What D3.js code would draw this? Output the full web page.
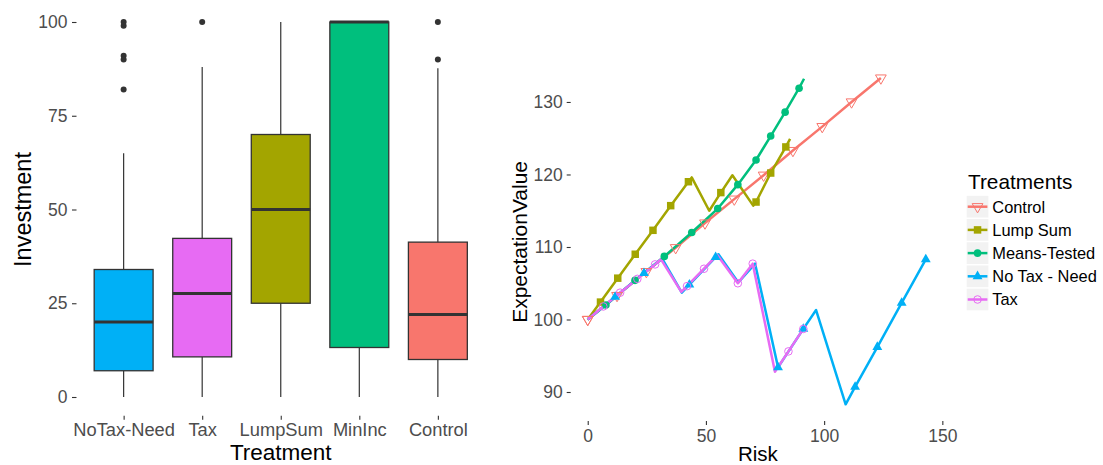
<!DOCTYPE html>
<html>
<head>
<meta charset="utf-8">
<script src="https://cdn.jsdelivr.net/npm/d3@7"></script>
<style>
  body { margin: 0; background: #fff; }
  svg { display: block; font-family: "Liberation Sans", Arial, sans-serif; }
</style>
</head>
<body>
<div id="chart"></div>
<script>
// ---- left panel: boxplot stats ----
const boxCats = ['NoTax-Need', 'Tax', 'LumpSum', 'MinInc', 'Control'];
const boxLow = [0, 0, 0, 0, 0];
const boxQ1 = [7, 10.7, 25, 13.2, 10];
const boxMedian = [20, 27.6, 50, 100, 22];
const boxQ3 = [34, 42.3, 70, 100, 41.3];
const boxHigh = [65, 88, 100, 100, 87.7];
const boxOutliers = [[100, 99, 91, 90, 82], [100], [], [], [100, 90]];
const boxYTicks = [0, 25, 50, 75, 100];

// ---- right panel: expectation value vs risk ----
const seriesNames = ['Control', 'Lump Sum', 'Means-Tested', 'No Tax - Need', 'Tax'];

const controlRisk = [0, 12.4, 24.8, 37.2, 49.6, 62, 74.4, 86.8, 99.2, 111.6, 124];
const controlEV = [100, 103.3, 106.6, 109.9, 113.3, 116.6, 119.9, 123.3, 126.6, 130, 133.3];
const controlMarks = [0, 1, 2, 3, 4, 5, 6, 7, 8, 9, 10];

const lumpRisk = [0, 5.4, 12.7, 20.1, 27.6, 35.1, 42.6, 44, 51.4, 56.3, 61.2, 70, 71.2, 77.4, 83.8, 85.6];
const lumpEV = [100, 102.4, 105.7, 109, 112.3, 115.7, 119, 119.6, 115, 117.5, 119.9, 115.7, 116.2, 120.2, 123.8, 124.9];
const lumpMarks = [1, 2, 3, 4, 5, 6, 9, 12, 13, 14];

const meansRisk = [0, 7.7, 20, 32.4, 44, 55, 63.5, 71.2, 77.4, 83.5, 89.4, 91.5];
const meansEV = [100, 102, 105.4, 108.7, 112, 115.3, 118.6, 122, 125.3, 128.6, 131.9, 133.2];
const meansMarks = [1, 2, 3, 4, 5, 6, 7, 8, 9, 10];

const noTaxRisk = [0, 11.6, 23.8, 31.5, 39.8, 43, 54.1, 55.3, 63.7, 70.8, 80.5, 91.2, 96.6, 109.1, 113.1, 122.5, 132.8, 143];
const noTaxEV = [100, 103.1, 106.4, 108.4, 103.7, 104.8, 108.6, 109, 105.1, 107.7, 93.4, 98.7, 101.3, 88.3, 90.7, 96.2, 102.3, 108.3];
const noTaxMarks = [1, 2, 5, 6, 10, 11, 14, 15, 16, 17];

const taxRisk = [0, 6.6, 13.7, 21, 28.5, 31, 39.6, 42, 49.2, 54.8, 63.5, 69.8, 79.2, 84.9, 91.2, 92];
const taxEV = [100, 101.8, 103.7, 105.6, 107.6, 108.3, 103.8, 104.6, 107, 108.9, 105, 107.7, 92.8, 95.6, 98.7, 99.1];
const taxMarks = [1, 2, 3, 4, 7, 8, 10, 11, 13, 14];

const riskTicks = [0, 50, 100, 150];
const evTicks = [90, 100, 110, 120, 130];

// ---- styles ----
const boxFill = {
  'NoTax-Need': '#00B0F6', 'Tax': '#E76BF3', 'LumpSum': '#A3A500',
  'MinInc': '#00BF7D', 'Control': '#F8766D'
};
const seriesColor = {
  'Control': '#F8766D', 'Lump Sum': '#A3A500', 'Means-Tested': '#00BF7D',
  'No Tax - Need': '#00B0F6', 'Tax': '#E76BF3'
};

const W = 1103, H = 465;
const svg = d3.select('#chart').append('svg')
  .attr('width', W).attr('height', H)
  .attr('viewBox', `0 0 ${W} ${H}`);

function styleAxis(g, size) {
  g.attr('font-family', null).attr('font-size', null);
  g.select('.domain').remove();
  g.selectAll('line').attr('stroke', '#333').attr('stroke-width', 1.1);
  g.selectAll('text').attr('fill', '#4D4D4D').style('font-size', size);
}

// ================= left panel =================
const xL = d3.scalePoint().domain(boxCats).range([76.5, 485]).padding(0.6);
const yL = d3.scaleLinear().domain([-5, 105]).range([415.75, 3.25]);
const boxW = xL.step() * 0.75;

const gyL = svg.append('g')
  .attr('transform', 'translate(76.5,0)')
  .call(d3.axisLeft(yL).tickValues(boxYTicks).tickSize(4.5).tickPadding(4.5));
styleAxis(gyL, '17.5px');

const gxL = svg.append('g')
  .attr('transform', 'translate(0,415.75)')
  .call(d3.axisBottom(xL).tickSize(4).tickPadding(3));
styleAxis(gxL, '18.3px');

const boxes = boxCats.map((c, i) => ({
  cat: c, low: boxLow[i], q1: boxQ1[i], med: boxMedian[i],
  q3: boxQ3[i], high: boxHigh[i], out: boxOutliers[i]
}));

const boxG = svg.append('g').selectAll('g')
  .data(boxes)
  .join('g');

// whiskers
boxG.append('line')
  .attr('x1', d => xL(d.cat)).attr('x2', d => xL(d.cat))
  .attr('y1', d => yL(d.low)).attr('y2', d => yL(d.q1))
  .attr('stroke', '#333').attr('stroke-width', 1.2);
boxG.append('line')
  .attr('x1', d => xL(d.cat)).attr('x2', d => xL(d.cat))
  .attr('y1', d => yL(d.q3)).attr('y2', d => yL(d.high))
  .attr('stroke', '#333').attr('stroke-width', 1.2);

boxG.append('rect')
  .attr('x', d => xL(d.cat) - boxW / 2)
  .attr('width', boxW)
  .attr('y', d => yL(d.q3))
  .attr('height', d => yL(d.q1) - yL(d.q3))
  .attr('fill', d => boxFill[d.cat])
  .attr('stroke', '#333').attr('stroke-width', 1.3);

boxG.append('line')
  .attr('x1', d => xL(d.cat) - boxW / 2).attr('x2', d => xL(d.cat) + boxW / 2)
  .attr('y1', d => yL(d.med)).attr('y2', d => yL(d.med))
  .attr('stroke', '#333').attr('stroke-width', 3);

boxG.selectAll('circle')
  .data(d => d.out.map(v => ({ cat: d.cat, v })))
  .join('circle')
  .attr('cx', d => xL(d.cat)).attr('cy', d => yL(d.v))
  .attr('r', 3).attr('fill', '#333');

svg.append('text')
  .attr('transform', `translate(31,${yL(50)}) rotate(-90)`)
  .attr('text-anchor', 'middle')
  .style('font-size', '23.5px')
  .text('Investment');

svg.append('text')
  .attr('x', (76.5 + 485) / 2).attr('y', 460)
  .attr('text-anchor', 'middle')
  .style('font-size', '22.5px')
  .text('Treatment');

// ================= right panel =================
const xR = d3.scaleLinear().domain([-7.2, 151]).range([570.7, 944.7]);
const yR = d3.scaleLinear().domain([86, 135.5]).range([421, 62.1]);

const gyR = svg.append('g')
  .attr('transform', `translate(${xR(-7.2)},0)`)
  .call(d3.axisLeft(yR).tickValues(evTicks).tickSize(4).tickPadding(4));
styleAxis(gyR, '17.5px');

const gxR = svg.append('g')
  .attr('transform', `translate(0,${yR(86)})`)
  .call(d3.axisBottom(xR).tickValues(riskTicks).tickSize(4).tickPadding(4.3));
styleAxis(gxR, '17.5px');

svg.append('text')
  .attr('transform', `translate(527,${yR(110.7)}) rotate(-90)`)
  .attr('text-anchor', 'middle')
  .style('font-size', '21px')
  .text('ExpectationValue');

svg.append('text')
  .attr('x', xR(72)).attr('y', 460.5)
  .attr('text-anchor', 'middle')
  .style('font-size', '20.5px')
  .text('Risk');

const toPts = (r, e) => r.map((v, i) => [v, e[i]]);
const series = [
  { name: 'Control', pts: toPts(controlRisk, controlEV), marks: controlMarks },
  { name: 'Lump Sum', pts: toPts(lumpRisk, lumpEV), marks: lumpMarks },
  { name: 'Means-Tested', pts: toPts(meansRisk, meansEV), marks: meansMarks },
  { name: 'No Tax - Need', pts: toPts(noTaxRisk, noTaxEV), marks: noTaxMarks },
  { name: 'Tax', pts: toPts(taxRisk, taxEV), marks: taxMarks }
];

const line = d3.line().x(d => xR(d[0])).y(d => yR(d[1]));

svg.append('g')
  .attr('fill', 'none')
  .attr('stroke-width', 2.5)
  .attr('stroke-linejoin', 'round')
  .selectAll('path')
  .data(series)
  .join('path')
  .attr('stroke', d => seriesColor[d.name])
  .attr('d', d => line(d.pts));

// marker shapes per treatment, like ggplot shapes 6, 15, 16, 17, 1
function drawMarker(sel, name) {
  const col = seriesColor[name];
  if (name === 'Control') {
    sel.append('path')
      .attr('d', d3.symbol(d3.symbolTriangle, 50)())
      .attr('transform', 'rotate(180)')
      .attr('fill', 'none').attr('stroke', col).attr('stroke-width', 1);
  } else if (name === 'Lump Sum') {
    sel.append('path')
      .attr('d', d3.symbol(d3.symbolSquare, 56)())
      .attr('fill', col);
  } else if (name === 'Means-Tested') {
    sel.append('circle').attr('r', 3.8).attr('fill', col);
  } else if (name === 'No Tax - Need') {
    sel.append('path')
      .attr('d', d3.symbol(d3.symbolTriangle, 42)())
      .attr('fill', col);
  } else {
    sel.append('circle').attr('r', 3.8)
      .attr('fill', 'none').attr('stroke', col).attr('stroke-width', 1);
  }
}

series.forEach(s => {
  const g = svg.append('g');
  s.marks.forEach(i => {
    const p = s.pts[i];
    const m = g.append('g')
      .attr('transform', `translate(${xR(p[0])},${yR(p[1])})`);
    drawMarker(m, s.name);
  });
});

// start point (shared) shows the Control triangle
{
  const m = svg.append('g').attr('transform', `translate(${xR(0)},${yR(100)})`);
  drawMarker(m, 'Control');
}

// ---- legend ----
const legX = 966.7, legY0 = 206.7, legStep = 23.2, keyW = 21.7;

svg.append('text')
  .attr('x', 968).attr('y', 189)
  .style('font-size', '20.8px')
  .text('Treatments');

const leg = svg.append('g').selectAll('g')
  .data(seriesNames)
  .join('g')
  .attr('transform', (d, i) => `translate(${legX},${legY0 + i * legStep})`);

leg.append('rect')
  .attr('x', 0).attr('y', -keyW / 2)
  .attr('width', keyW).attr('height', keyW)
  .attr('fill', '#F2F2F2');

leg.append('line')
  .attr('x1', 1).attr('x2', keyW - 1)
  .attr('stroke', d => seriesColor[d]).attr('stroke-width', 2.5);

leg.each(function (d) {
  const m = d3.select(this).append('g').attr('transform', `translate(${keyW / 2},0)`);
  drawMarker(m, d);
});

leg.append('text')
  .attr('x', 25.6).attr('y', 0).attr('dy', '0.36em')
  .style('font-size', '16.4px')
  .text(d => d);
</script>
</body>
</html>
